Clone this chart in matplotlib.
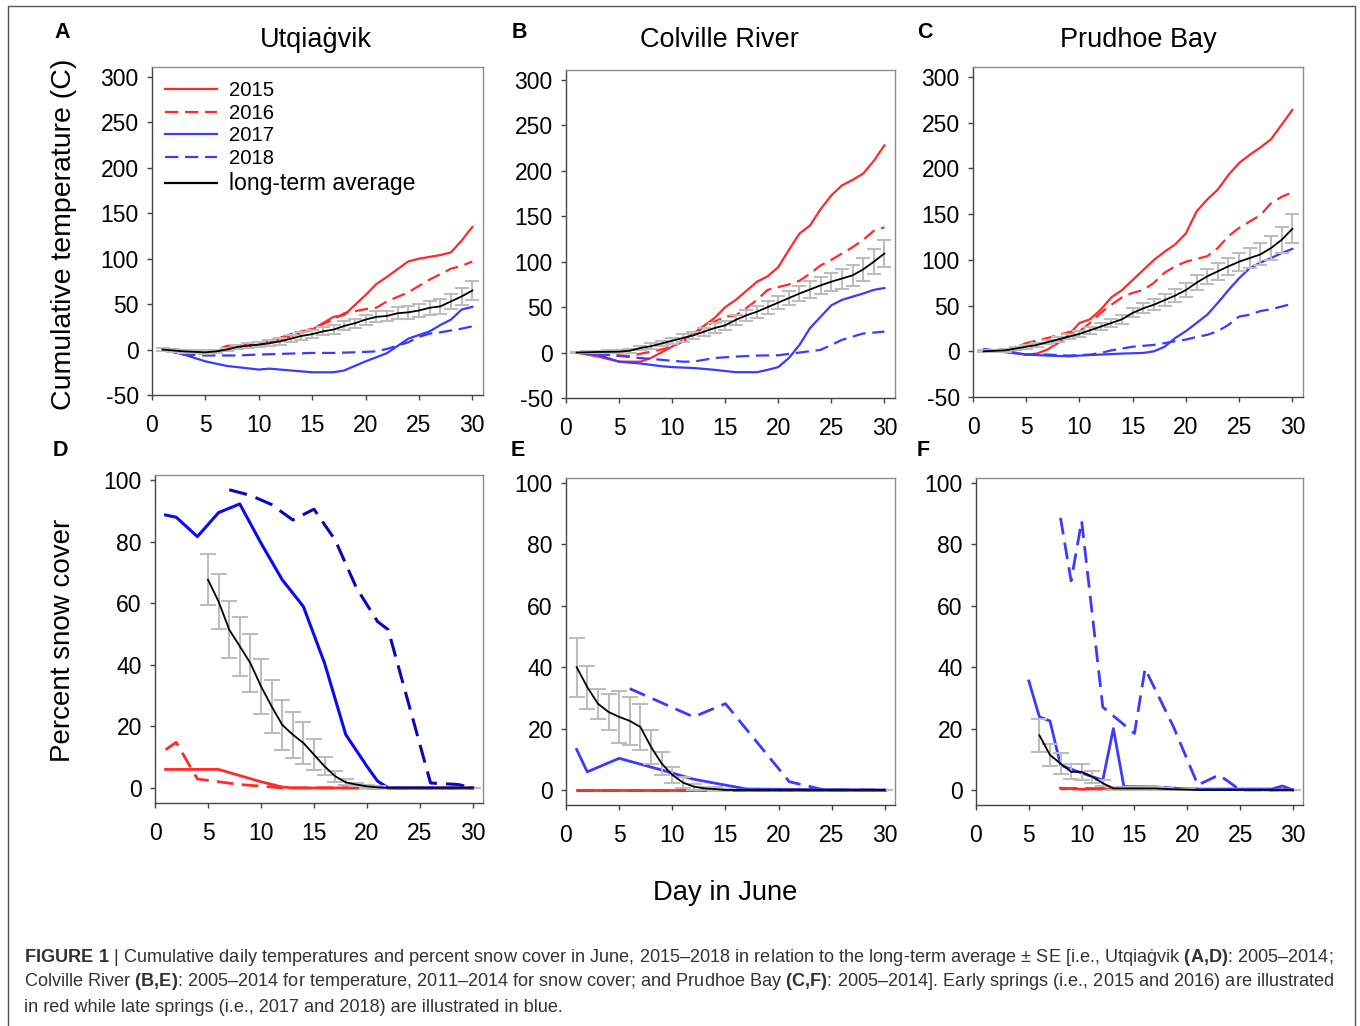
import matplotlib
matplotlib.use("Agg")
import matplotlib.pyplot as plt
from matplotlib.lines import Line2D

plt.rcParams['font.family'] = ['Liberation Sans', 'DejaVu Sans']
plt.rcParams['mathtext.fontset'] = 'custom'
plt.rcParams['mathtext.rm'] = 'Liberation Sans'
plt.rcParams['mathtext.bf'] = 'Liberation Sans:bold'
plt.rcParams['axes.unicode_minus'] = False

RED = '#ff2a2a'
BLUE = '#3b3bff'
DBLUE = '#0b0bf0'
NAVY = '#0a0ab4'
GREY = '#bdbdbd'

# ---------------- cumulative temperature (A-C) ----------------
days30 = list(range(1, 31))

a_2015_d = [1, 3, 5, 7, 10, 12, 15, 17, 18, 20, 21, 22, 24, 25, 27, 28, 29, 30]
a_2015 = [0, -2, -4, -1, 5, 11, 22, 36, 38, 60, 72, 80, 97, 100, 104, 107, 120, 135]
a_2016_d = [1, 3, 5, 7, 10, 12, 13, 15, 17, 18, 20, 21, 22, 24, 26, 28, 29, 30]
a_2016 = [0, -2, -5, 4, 7, 13, 17, 23, 33, 40, 44.5, 46, 53, 63, 77, 89, 92, 97]
a_2017_d = [1, 3, 5, 7, 10, 11, 13, 15, 17, 18, 19, 20, 22, 23, 24, 26, 27, 28, 29, 30]
a_2017 = [0, -5.5, -13, -18, -22, -21, -23, -25, -25, -23, -18, -13, -4, 4, 12, 20, 27, 33, 44, 47]
a_2018_d = [1, 3, 5, 8, 10, 13, 15, 17, 19, 21, 22, 23, 24, 25, 26, 27, 28, 29, 30]
a_2018 = [0, -5.5, -6.5, -6.5, -5.5, -4.4, -3.7, -3.7, -3, -2, 0.7, 4.4, 8, 14, 17.5, 19, 21, 23, 25.6]
a_avg = [0, -1, -2, -2.5, -3, -2, 0, 3, 4.4, 5.5, 7, 9, 12, 15, 17, 20, 22, 26, 29, 33,
         36, 37, 40, 41, 43, 46, 47.5, 53, 58.5, 65]
a_se = [1.5, 1.5, 1.5, 1.5, 2, 2, 2, 2.5, 2.5, 3, 3, 3.5, 3.5, 4, 4, 4.5, 4.5, 5, 5, 5.5,
        6, 6, 6.5, 7, 7, 7.5, 8, 8.5, 9, 10]

b_2015_d = [1, 3, 5, 7, 8, 10, 12, 14, 15, 16, 17, 18, 19, 20, 21, 22, 23, 24, 25, 26, 27, 28, 29, 30]
b_2015 = [0, -4.4, -10, -10, -6, 6.6, 21, 38, 50, 58, 68, 78, 84, 94, 113, 131, 140, 158, 173, 184, 190, 197, 211, 228]
b_2016_d = [1, 4, 6, 8, 10, 11, 12, 13, 14, 15, 16, 17, 18, 19, 20, 21, 22, 23, 24, 25, 26, 27, 28, 29, 30]
b_2016 = [0, -2.5, -3.7, 1, 6, 12, 19, 28.5, 34, 39.5, 41, 49, 58, 69, 72, 75, 79, 87, 96, 102, 109, 116, 124, 134, 138]
b_2017_d = [1, 3, 5, 7, 9, 10, 12, 14, 16, 18, 19, 20, 21, 22, 23, 24, 25, 26, 27, 28, 29, 30]
b_2017 = [0, -2.5, -10, -12, -15, -16, -17, -19, -21.6, -21.6, -19, -16, -6, 8.4, 27, 39.5, 52, 58, 61.5, 65, 69, 71]
b_2018_d = [1, 3, 5, 7, 9, 11, 12, 14, 16, 18, 20, 22, 24, 25, 26, 27, 28, 29, 30]
b_2018 = [0, -1.5, -3.7, -6, -8, -10, -10, -6, -4.4, -3.3, -3, 0, 3, 8.4, 14, 17.5, 21, 22, 23]
b_avg = [0, 0.3, 0.7, 0.8, 1, 2, 5, 7, 10, 13, 16, 19, 23, 27, 30, 36, 41, 45, 50, 55,
         60, 65, 69.5, 74, 78, 81.5, 85, 91.5, 100, 109]
b_se = [1, 1, 1.5, 1.5, 2, 2, 2.5, 3, 3, 3.5, 4, 4, 4.5, 5, 5, 5.5, 6, 6.5, 7, 7.5,
        8, 8.5, 9, 9.5, 10, 11, 11.5, 12.5, 13.5, 14.5]

c_2015_d = days30
c_2015 = [0, 0, 0, -1.5, -3.6, -2.5, 2, 9, 18, 31, 35, 45.6, 59, 67, 78, 89, 100, 109, 117, 129,
          153, 166, 177, 193, 206, 215, 223, 232, 248, 264]
c_2016_d = [1, 3, 4, 5, 7, 9, 10, 11, 12, 13, 14, 15, 16, 17, 18, 19, 20, 21, 22, 23, 24, 25, 26, 27, 28, 29, 30]
c_2016 = [0, 1, 5, 9, 14.5, 21, 22, 31, 42, 51, 59, 64, 67, 75, 86, 93, 98, 101, 104, 113, 126, 135, 142, 149, 162, 169, 174]
c_2017_d = [1, 3, 5, 7, 9, 10, 12, 14, 16, 17, 18, 19, 20, 21, 22, 23, 24, 25, 26, 27, 28, 29, 30]
c_2017 = [2, -1, -3.6, -4.7, -5.5, -4.7, -3.6, -2.5, -1.8, 0, 5, 14.6, 22, 31, 40, 53, 67, 80, 91, 97, 102, 107.5, 112]
c_2018_d = [1, 3, 5, 7, 9, 11, 12, 13, 15, 17, 19, 20, 21, 22, 23, 24, 25, 26, 27, 28, 29, 30]
c_2018 = [2.5, 0, -3.6, -3.6, -4.7, -3.6, -1.8, 1, 5, 7, 11, 12.8, 15.7, 18, 22, 29, 38, 40, 44, 46, 49, 52]
c_avg = [0, 0.5, 1, 3, 5, 7, 10, 13, 16, 19, 23, 27, 31, 35, 42, 47, 51, 56, 61, 67,
         75, 82, 87.5, 93, 98, 102, 106, 113, 122, 134]
c_se = [1, 1, 1.5, 1.5, 2, 2, 2.5, 3, 3, 3.5, 4, 4, 4.5, 5, 5, 5.5, 6, 6.5, 7, 7.5,
        8, 8.5, 9, 9.5, 10, 11, 12, 13, 14.5, 16]

# ---------------- percent snow cover (D-F) ----------------
d_2015_d = [1, 6, 8, 10, 12, 13, 30]
d_2015 = [6, 6, 4, 2, 0.3, 0, 0]
d_2016_d = [1, 2, 4, 8, 11, 12, 30]
d_2016 = [12.4, 14.8, 2.9, 1.1, 0.3, 0, 0]
d_2017_d = [1, 2, 4, 6, 8, 10, 12, 14, 16, 18, 20, 21, 22, 30]
d_2017 = [88.6, 87.9, 81.6, 89.4, 92.2, 79.5, 67.6, 58.9, 40.5, 17.3, 7, 2.2, 0, 0]
d_2018_d = [7, 9, 11, 13, 15, 17, 19, 21, 22, 26, 28.6, 30]
d_2018 = [96.8, 95, 92, 87, 90.5, 80.5, 65, 54, 51.4, 1.6, 1.1, 0]
d_avg_d = list(range(5, 31))
d_avg = [67.6, 60.5, 51.4, 46, 40.5, 33, 26.5, 20.5, 17.3, 14.6, 10.8, 7, 3.8, 1.8, 1.1, 0.5,
         0.2, 0, 0, 0, 0, 0, 0, 0, 0, 0]
d_se = [8.3, 9, 9.3, 9.6, 9.5, 9, 8.6, 8.2, 7.5, 6.8, 5, 2.9, 1.8, 1, 0.5, 0.4,
        0.3, 0, 0, 0, 0, 0, 0, 0, 0, 0]

e_2015_d = [1, 30]
e_2015 = [0, 0]
e_2016_d = [1, 30]
e_2016 = [0, 0]
e_2017_d = [1, 2, 5, 9, 12, 17, 30]
e_2017 = [13.2, 5.9, 10.3, 6.5, 3.5, 0.3, 0]
e_2018_d = [6, 12, 15, 21, 24.3, 30]
e_2018 = [33, 23.8, 28.1, 2.7, 0, 0]
e_avg_d = list(range(1, 31))
e_avg = [40, 33.5, 28.1, 25.4, 23.8, 22.5, 20.5, 14, 8.6, 4.9, 2.4, 1.1, 0.5, 0.3, 0,
         0, 0, 0, 0, 0, 0, 0, 0, 0, 0, 0, 0, 0, 0, 0]
e_se = [9.6, 7, 4.9, 6, 8.4, 7.8, 7.6, 5.6, 3.6, 2.6, 1.9, 1, 0.5, 0.5, 0.3,
        0, 0, 0, 0, 0, 0, 0, 0, 0, 0, 0, 0, 0, 0, 0]

f_2015_d = [8, 10, 12, 14, 16, 18, 20, 22, 24, 26, 28, 30]
f_2015 = [0.6, 0.2, 0.5, 0.3, 0.4, 0.2, 0.3, 0.1, 0.2, 0.1, 0.1, 0]
f_2016_d = [8, 10, 12, 14, 16, 18, 20, 22, 24, 26, 28, 30]
f_2016 = [0.3, 0.6, 0.2, 0.5, 0.2, 0.4, 0.1, 0.2, 0.1, 0.1, 0, 0]
f_2017_d = [5, 6, 7, 8, 10, 12, 13, 14, 17, 20, 28, 29, 30]
f_2017 = [35.5, 23.8, 22.5, 8.1, 5.5, 3.2, 20, 1.1, 1, 0.3, 0.3, 1.3, 0]
f_2018_d = [8, 9, 10, 12, 15, 16, 18.7, 21, 23, 25, 30]
f_2018 = [88.6, 68.1, 87.6, 27, 18.4, 39.5, 20.5, 1.6, 4.9, 0, 0]
f_avg_d = list(range(6, 31))
f_avg = [17.8, 11.4, 8.6, 5.9, 5.9, 4.3, 2.2, 0.5, 0.5, 0.5, 0.5, 0.5, 0.3, 0.2, 0.1,
         0, 0, 0, 0, 0, 0, 0, 0, 0, 0]
f_se = [5.4, 3.6, 3.5, 2.4, 2.5, 2, 1, 0.5, 0.5, 0.5, 0.5, 0.5, 0.3, 0.2, 0.1,
        0, 0, 0, 0, 0, 0, 0, 0, 0, 0]

titles = ['Utqiaġvik', 'Colville River', 'Prudhoe Bay']
letters = ['A', 'B', 'C', 'D', 'E', 'F']
temp_ticks = [-50, 0, 50, 100, 150, 200, 250, 300]
snow_ticks = [0, 20, 40, 60, 80, 100]
day_ticks = [0, 5, 10, 15, 20, 25, 30]

W, H = 1360, 1026
fig = plt.figure(figsize=(W / 100, H / 100), dpi=100)


def px_axes(l, t, r, b):
    return fig.add_axes([l / W, 1 - b / H, (r - l) / W, (b - t) / H])


def style(ax, yticks, ylim, xlim):
    ax.set_xlim(*xlim)
    ax.set_ylim(*ylim)
    ax.set_xticks(day_ticks)
    ax.set_yticks(yticks)
    ax.tick_params(axis='x', direction='out', length=3.5, width=1, pad=10, labelsize=16.5, color='#444')
    ax.tick_params(axis='y', direction='out', length=3.5, width=1, pad=6, labelsize=16.5, color='#444')
    for s in ['left', 'bottom']:
        ax.spines[s].set_color('#444444')
    for s in ['top', 'right']:
        ax.spines[s].set_color('#8c8c8c')
    for s in ax.spines.values():
        s.set_linewidth(1)


def temp_panel(ax, s15, s16, s17, s18, avg, se):
    ax.plot(*s15, color=RED, lw=1.6)
    ax.plot(*s16, color=RED, lw=1.6, dashes=(6, 3))
    ax.plot(*s17, color=BLUE, lw=1.6)
    ax.plot(*s18, color=BLUE, lw=1.6, dashes=(6, 3))
    ax.errorbar(days30, avg, yerr=se, fmt='none', ecolor=GREY, elinewidth=1.5,
                capsize=5, capthick=1.5)
    ax.plot(days30, avg, color='black', lw=1.3)
    style(ax, temp_ticks, (-50, 311), (0, 31))


def snow_panel(ax, s15, s16, s17, s18, avg_d, avg, se, c17=BLUE, c18=BLUE, lw=2.0):
    ax.plot(*s15, color=RED, lw=2.0)
    ax.plot(*s16, color=RED, lw=2.0, dashes=(6, 3))
    ax.plot(*s17, color=c17, lw=lw)
    ax.plot(*s18, color=c18, lw=lw, dashes=(6, 3))
    ax.errorbar(avg_d, avg, yerr=se, fmt='none', ecolor=GREY, elinewidth=1.5,
                capsize=6, capthick=1.5)
    ax.plot(avg_d, avg, color='black', lw=1.3)
    style(ax, snow_ticks, (-4.9, 101.6), (0, 30.95))


axA = px_axes(152, 67, 483, 395)
axB = px_axes(566, 70, 895, 398)
axC = px_axes(973, 67, 1303, 397)
axD = px_axes(155, 475, 483, 803)
axE = px_axes(566, 478, 895, 805)
axF = px_axes(976, 478, 1303, 805)

temp_panel(axA, (a_2015_d, a_2015), (a_2016_d, a_2016), (a_2017_d, a_2017),
           (a_2018_d, a_2018), a_avg, a_se)
temp_panel(axB, (b_2015_d, b_2015), (b_2016_d, b_2016), (b_2017_d, b_2017),
           (b_2018_d, b_2018), b_avg, b_se)
temp_panel(axC, (c_2015_d, c_2015), (c_2016_d, c_2016), (c_2017_d, c_2017),
           (c_2018_d, c_2018), c_avg, c_se)
snow_panel(axD, (d_2015_d, d_2015), (d_2016_d, d_2016), (d_2017_d, d_2017),
           (d_2018_d, d_2018), d_avg_d, d_avg, d_se, c17=DBLUE, c18=NAVY, lw=2.2)
snow_panel(axE, (e_2015_d, e_2015), (e_2016_d, e_2016), (e_2017_d, e_2017),
           (e_2018_d, e_2018), e_avg_d, e_avg, e_se)
snow_panel(axF, (f_2015_d, f_2015), (f_2016_d, f_2016), (f_2017_d, f_2017),
           (f_2018_d, f_2018), f_avg_d, f_avg, f_se)

# legend in panel A
handles = [Line2D([], [], color=RED, lw=1.6),
           Line2D([], [], color=RED, lw=1.6, dashes=(6, 3)),
           Line2D([], [], color=BLUE, lw=1.6),
           Line2D([], [], color=BLUE, lw=1.6, dashes=(6, 3)),
           Line2D([], [], color='black', lw=1.6)]
leg = axA.legend(handles, ['2015', '2016', '2017', '2018', 'long-term average'],
                 loc='upper left', bbox_to_anchor=(-0.005, 1.0), frameon=False,
                 fontsize=14.6, handlelength=2.6, handletextpad=0.6,
                 labelspacing=0.18, borderaxespad=0.3)
leg.get_texts()[-1].set_fontsize(16.6)

# titles, panel letters, axis labels
for x, t in zip([316, 719, 1138], titles):
    fig.text(x / W, 1 - 40 / H, t, fontsize=19.5, ha='center', va='center')
for (x, y), l in zip([(62, 33), (519, 33), (925, 33), (60, 450), (518, 450), (923, 450)], letters):
    fig.text(x / W, 1 - y / H, l, fontsize=15.5, fontweight='bold', ha='center', va='center')
fig.text(64 / W, 1 - 234 / H, 'Cumulative temperature (C)', fontsize=20.5,
         rotation=90, ha='center', va='center')
fig.text(63 / W, 1 - 640 / H, 'Percent snow cover', fontsize=20,
         rotation=90, ha='center', va='center')
fig.text(725 / W, 1 - 893 / H, 'Day in June', fontsize=19.7, ha='center', va='center')

# caption
cap = [r'$\mathbf{FIGURE\ 1}$ | Cumulative daily temperatures and percent snow cover in June, '
       r'2015–2018 in relation to the long-term average ± SE [i.e., Utqiaġvik '
       r'$\mathbf{(A{,}D)}$: 2005–2014;',
       r'Colville River $\mathbf{(B{,}E)}$: 2005–2014 for temperature, 2011–2014 for snow cover; '
       r'and Prudhoe Bay $\mathbf{(C{,}F)}$: 2005–2014]. Early springs (i.e., 2015 and 2016) are illustrated',
       'in red while late springs (i.e., 2017 and 2018) are illustrated in blue.']
for i, line in enumerate(cap):
    fig.text(24 / W, 1 - (957 + 25 * i) / H, line, fontsize=13.1, color='#333333',
             ha='left', va='center')

# outer frame
fig.add_artist(Line2D([8 / W, 8 / W, 1355 / W, 1355 / W],
                      [0, 1 - 6 / H, 1 - 6 / H, 0], color='#555555', lw=1))

fig.savefig('out.png', dpi=100)
